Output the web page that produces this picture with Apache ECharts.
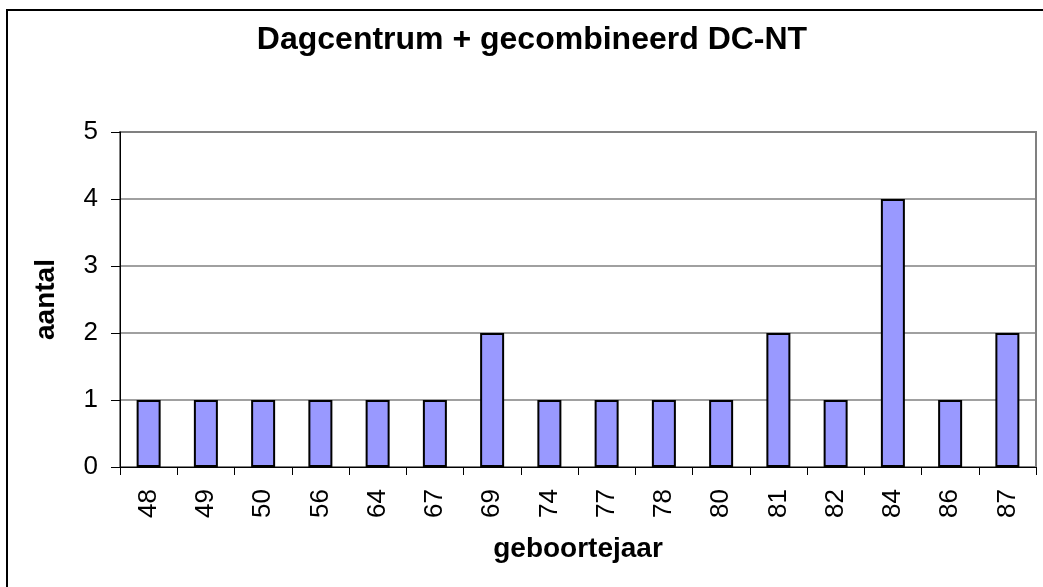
<!DOCTYPE html>
<html>
<head>
<meta charset="utf-8">
<title>Dagcentrum</title>
<script src="https://cdn.jsdelivr.net/npm/echarts@6/dist/echarts.min.js"></script>
<style>
  html, body { margin: 0; padding: 0; background: #fff; }
  #main { width: 1043px; height: 587px; }
</style>
</head>
<body>
<div id="main"></div>
<script type="text/javascript">
// geboortejaar op de x-as, aantal per jaar
var jaren = ['48', '49', '50', '56', '64', '67', '69', '74', '77', '78', '80', '81', '82', '84', '86', '87'];
var aantal = [1, 1, 1, 1, 1, 1, 2, 1, 1, 1, 1, 2, 1, 4, 1, 2];
var yTicks = [0, 1, 2, 3, 4, 5];

var font = 'Arial, "Liberation Sans", sans-serif';
var myChart = echarts.init(document.getElementById('main'));

var option = {
    animation: false,
    backgroundColor: '#fff',
    title: {
        text: 'Dagcentrum + gecombineerd DC-NT',
        left: 527,
        top: 19,
        textAlign: 'center',
        textStyle: { fontFamily: font, fontSize: 32, fontWeight: 'bold', color: '#000' }
    },
    graphic: [{
        type: 'rect',
        shape: { x: 7, y: 10, width: 1100, height: 700 },
        style: { fill: 'none', stroke: '#000', lineWidth: 2 },
        silent: true
    }],
    grid: {
        left: 120,
        right: 7,
        top: 132,
        bottom: 120,
        show: true,
        borderColor: '#808080',
        borderWidth: 2
    },
    xAxis: {
        type: 'category',
        data: jaren,
        name: 'geboortejaar',
        nameLocation: 'middle',
        nameGap: 68,
        nameTextStyle: { fontFamily: font, fontSize: 28, fontWeight: 'bold', color: '#000' },
        axisLine: { lineStyle: { color: '#000', width: 1 } },
        axisTick: { show: true, alignWithLabel: false, length: 8, lineStyle: { color: '#000' } },
        axisLabel: { rotate: 90, margin: 22, fontFamily: font, fontSize: 26, color: '#000' },
        splitLine: { show: false }
    },
    yAxis: {
        type: 'value',
        min: yTicks[0],
        max: yTicks[yTicks.length - 1],
        interval: 1,
        name: 'aantal',
        nameLocation: 'middle',
        nameRotate: 90,
        nameGap: 60,
        nameTextStyle: { fontFamily: font, fontSize: 28, fontWeight: 'bold', color: '#000' },
        axisLine: { show: true, lineStyle: { color: '#000', width: 1 } },
        axisTick: { show: true, length: 9, lineStyle: { color: '#000' } },
        axisLabel: { margin: 22, fontFamily: font, fontSize: 26, color: '#000' },
        splitLine: { show: true, lineStyle: { color: '#808080', width: 1.5 } }
    },
    series: [{
        name: 'aantal',
        type: 'bar',
        data: aantal,
        barWidth: 24,
        itemStyle: { color: '#9999ff', borderColor: '#000', borderWidth: 2 }
    }]
};
myChart.setOption(option);
</script>
</body>
</html>
